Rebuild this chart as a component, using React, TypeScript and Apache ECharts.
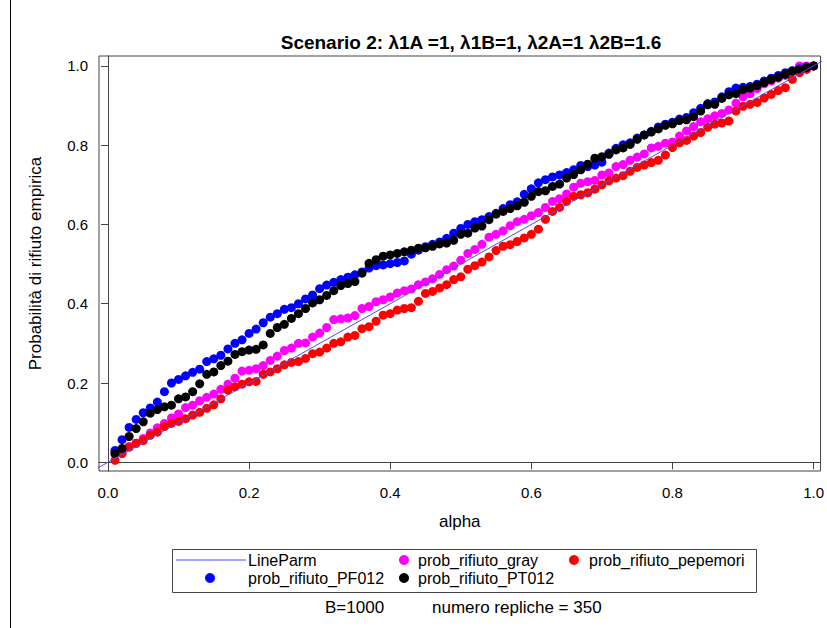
import React, { useEffect, useRef } from "react";
import * as echarts from "echarts";

const alphaValues: number[] = [
  0.01, 0.02, 0.03, 0.04, 0.05, 0.06, 0.07, 0.08, 0.09, 0.10,
  0.11, 0.12, 0.13, 0.14, 0.15, 0.16, 0.17, 0.18, 0.19, 0.20,
  0.21, 0.22, 0.23, 0.24, 0.25, 0.26, 0.27, 0.28, 0.29, 0.30,
  0.31, 0.32, 0.33, 0.34, 0.35, 0.36, 0.37, 0.38, 0.39, 0.40,
  0.41, 0.42, 0.43, 0.44, 0.45, 0.46, 0.47, 0.48, 0.49, 0.50,
  0.51, 0.52, 0.53, 0.54, 0.55, 0.56, 0.57, 0.58, 0.59, 0.60,
  0.61, 0.62, 0.63, 0.64, 0.65, 0.66, 0.67, 0.68, 0.69, 0.70,
  0.71, 0.72, 0.73, 0.74, 0.75, 0.76, 0.77, 0.78, 0.79, 0.80,
  0.81, 0.82, 0.83, 0.84, 0.85, 0.86, 0.87, 0.88, 0.89, 0.90,
  0.91, 0.92, 0.93, 0.94, 0.95, 0.96, 0.97, 0.98, 0.99, 1.00,
];

const probGray: number[] = [
  0.020, 0.026, 0.040, 0.048, 0.060, 0.074, 0.087, 0.098, 0.112, 0.122,
  0.138, 0.144, 0.155, 0.164, 0.172, 0.184, 0.197, 0.212, 0.230, 0.232,
  0.236, 0.244, 0.257, 0.268, 0.282, 0.288, 0.300, 0.301, 0.316, 0.326,
  0.340, 0.360, 0.362, 0.364, 0.370, 0.388, 0.393, 0.405, 0.410, 0.417,
  0.427, 0.433, 0.437, 0.448, 0.455, 0.463, 0.474, 0.486, 0.495, 0.510,
  0.527, 0.537, 0.550, 0.568, 0.575, 0.584, 0.597, 0.607, 0.613, 0.622,
  0.630, 0.643, 0.658, 0.665, 0.677, 0.694, 0.704, 0.708, 0.711, 0.725,
  0.730, 0.746, 0.751, 0.762, 0.770, 0.778, 0.793, 0.797, 0.805, 0.808,
  0.823, 0.836, 0.847, 0.859, 0.867, 0.874, 0.880, 0.889, 0.906, 0.922,
  0.930, 0.943, 0.955, 0.962, 0.969, 0.976, 0.986, 1.000, 1.000, 1.000,
];

const probPepemori: number[] = [
  0.005, 0.022, 0.038, 0.048, 0.055, 0.068, 0.076, 0.090, 0.098, 0.103,
  0.110, 0.119, 0.126, 0.136, 0.145, 0.160, 0.182, 0.190, 0.197, 0.203,
  0.204, 0.222, 0.228, 0.236, 0.246, 0.252, 0.254, 0.262, 0.274, 0.278,
  0.288, 0.300, 0.304, 0.316, 0.320, 0.337, 0.342, 0.356, 0.371, 0.375,
  0.384, 0.388, 0.390, 0.406, 0.426, 0.431, 0.440, 0.448, 0.461, 0.468,
  0.487, 0.496, 0.505, 0.518, 0.534, 0.545, 0.549, 0.557, 0.566, 0.575,
  0.588, 0.613, 0.633, 0.643, 0.658, 0.671, 0.675, 0.680, 0.689, 0.700,
  0.710, 0.717, 0.723, 0.734, 0.744, 0.750, 0.756, 0.762, 0.775, 0.794,
  0.806, 0.812, 0.823, 0.832, 0.845, 0.853, 0.856, 0.861, 0.886, 0.898,
  0.903, 0.908, 0.919, 0.928, 0.938, 0.945, 0.966, 0.983, 0.991, 1.000,
];

const probPF012: number[] = [
  0.030, 0.057, 0.088, 0.108, 0.125, 0.137, 0.152, 0.178, 0.200, 0.209,
  0.218, 0.227, 0.235, 0.254, 0.261, 0.270, 0.286, 0.300, 0.309, 0.325,
  0.336, 0.352, 0.366, 0.375, 0.386, 0.390, 0.400, 0.412, 0.422, 0.438,
  0.447, 0.454, 0.461, 0.467, 0.473, 0.480, 0.490, 0.496, 0.498, 0.501,
  0.504, 0.508, 0.525, 0.535, 0.544, 0.550, 0.556, 0.565, 0.578, 0.590,
  0.600, 0.607, 0.612, 0.620, 0.628, 0.640, 0.650, 0.657, 0.676, 0.690,
  0.705, 0.713, 0.720, 0.725, 0.731, 0.738, 0.749, 0.746, 0.750, 0.757,
  0.780, 0.792, 0.801, 0.806, 0.818, 0.826, 0.835, 0.846, 0.853, 0.858,
  0.866, 0.870, 0.882, 0.893, 0.905, 0.909, 0.922, 0.935, 0.944, 0.946,
  0.948, 0.954, 0.962, 0.969, 0.976, 0.983, 0.988, 0.993, 0.997, 1.000,
];

const probPT012: number[] = [
  0.022, 0.035, 0.065, 0.085, 0.102, 0.124, 0.133, 0.140, 0.144, 0.160,
  0.165, 0.178, 0.198, 0.222, 0.228, 0.244, 0.255, 0.272, 0.279, 0.283,
  0.285, 0.296, 0.325, 0.340, 0.348, 0.363, 0.375, 0.388, 0.402, 0.410,
  0.421, 0.433, 0.446, 0.451, 0.456, 0.477, 0.502, 0.511, 0.520, 0.523,
  0.527, 0.531, 0.535, 0.540, 0.541, 0.545, 0.551, 0.553, 0.560, 0.575,
  0.578, 0.591, 0.596, 0.612, 0.626, 0.633, 0.640, 0.647, 0.656, 0.671,
  0.683, 0.685, 0.696, 0.702, 0.717, 0.726, 0.738, 0.752, 0.767, 0.771,
  0.777, 0.788, 0.793, 0.802, 0.815, 0.826, 0.833, 0.841, 0.850, 0.854,
  0.862, 0.864, 0.872, 0.886, 0.902, 0.903, 0.918, 0.927, 0.930, 0.940,
  0.944, 0.950, 0.958, 0.966, 0.972, 0.979, 0.987, 0.991, 0.996, 1.000,
];

// y = x reference line (LineParm), endpoints in data units
const lineParmX: number[] = [-0.05, 1.05];
const lineParmY: number[] = [-0.05, 1.05];

const tickValues: number[] = [0, 0.2, 0.4, 0.6, 0.8, 1.0];

const FONT = "'Liberation Sans', Arial, sans-serif";

const pair = (xs: number[], ys: number[]) => xs.map((x, i) => [x, ys[i]]);

export default function App() {
  const ref = useRef<HTMLDivElement>(null);
  useEffect(() => {
    if (!ref.current) return;
    const chart = echarts.init(ref.current, undefined, { renderer: "svg" });
    const dot = (name: string, color: string, data: number[]) => ({
      name,
      type: "scatter",
      data: pair(alphaValues, data),
      symbol: "circle",
      symbolSize: 9,
      itemStyle: { color, opacity: 1 },
      emphasis: { disabled: true },
    });
    const legendText = { fontFamily: FONT, fontSize: 16, color: "#000" };
    const legendBase = {
      orient: "horizontal",
      padding: 0,
      selectedMode: false,
      itemGap: 0,
    };
    chart.setOption({
      animation: false,
      backgroundColor: "#fff",
      title: {
        text: "Scenario 2: λ1A =1, λ1B=1, λ2A=1 λ2B=1.6",
        left: 466,
        textAlign: "center",
        top: 28,
        textStyle: { fontFamily: FONT, fontSize: 19, fontWeight: "bold", color: "#000" },
      },
      grid: {
        left: 99,
        right: 2,
        top: 56,
        bottom: 157,
        show: true,
        borderColor: "#444",
        borderWidth: 1,
        backgroundColor: "transparent",
      },
      xAxis: {
        type: "value",
        min: -0.0127,
        max: 1.0099,
        name: "alpha",
        nameLocation: "middle",
        nameGap: 42,
        nameTextStyle: { fontFamily: FONT, fontSize: 17, color: "#000" },
        axisLine: { show: true, lineStyle: { color: "#444" } },
        axisTick: { show: true, length: 7, lineStyle: { color: "#444" }, customValues: tickValues },
        axisLabel: {
          fontFamily: FONT,
          fontSize: 15,
          color: "#000",
          margin: 14,
          customValues: tickValues,
          formatter: (v: number) => v.toFixed(1),
        },
        splitLine: { show: false },
      },
      yAxis: {
        type: "value",
        min: -0.022,
        max: 1.025,
        name: "Probabilità di rifiuto empirica",
        nameLocation: "middle",
        nameGap: 55,
        nameTextStyle: { fontFamily: FONT, fontSize: 17, color: "#000" },
        axisLine: { show: true, lineStyle: { color: "#444" } },
        axisTick: { show: true, length: 7, lineStyle: { color: "#444" }, customValues: tickValues },
        axisLabel: {
          fontFamily: FONT,
          fontSize: 15,
          color: "#000",
          margin: 11,
          customValues: tickValues,
          formatter: (v: number) => v.toFixed(1),
        },
        splitLine: { show: false },
      },
      legend: [
        { ...legendBase, left: 176, top: 552, itemWidth: 70, itemHeight: 1, icon: "rect", data: ["LineParm"], textStyle: { ...legendText, padding: [0, 0, 0, -3] } },
        { ...legendBase, left: 205, top: 570, itemWidth: 10, itemHeight: 10, icon: "circle", data: ["prob_rifiuto_PF012"], textStyle: { ...legendText, padding: [0, 0, 0, 28] } },
        { ...legendBase, left: 399, top: 552, itemWidth: 10, itemHeight: 10, icon: "circle", data: ["prob_rifiuto_gray"], textStyle: { ...legendText, padding: [0, 0, 0, 4] } },
        { ...legendBase, left: 399, top: 570, itemWidth: 10, itemHeight: 10, icon: "circle", data: ["prob_rifiuto_PT012"], textStyle: { ...legendText, padding: [0, 0, 0, 4] } },
        { ...legendBase, left: 569, top: 552, itemWidth: 10, itemHeight: 10, icon: "circle", data: ["prob_rifiuto_pepemori"], textStyle: { ...legendText, padding: [0, 0, 0, 5] } },
      ],
      graphic: [
        {
          type: "rect",
          left: 170,
          top: 547,
          shape: { width: 584, height: 43 },
          style: { fill: "none", stroke: "#444", lineWidth: 1 },
          silent: true,
        },
        {
          type: "line",
          shape: { x1: 10.5, y1: 0, x2: 10.5, y2: 628 },
          style: { stroke: "#000", lineWidth: 1 },
          silent: true,
        },
        {
          type: "text",
          left: 325,
          top: 599,
          style: { text: "B=1000", font: `17px ${FONT}`, fill: "#000" },
        },
        {
          type: "text",
          left: 432,
          top: 599,
          style: { text: "numero repliche = 350", font: `17px ${FONT}`, fill: "#000" },
        },
      ],
      series: [
        {
          name: "LineParm",
          type: "line",
          data: pair(lineParmX, lineParmY),
          showSymbol: false,
          symbol: "none",
          clip: true,
          lineStyle: { color: "#4b4bff", width: 1 },
          itemStyle: { color: "#4b4bff" },
          emphasis: { disabled: true },
        },
        dot("prob_rifiuto_gray", "#ff00ff", probGray),
        dot("prob_rifiuto_pepemori", "#ff0000", probPepemori),
        dot("prob_rifiuto_PF012", "#0000ff", probPF012),
        dot("prob_rifiuto_PT012", "#000000", probPT012),
      ],
    });
    return () => chart.dispose();
  }, []);
  return (
    <div
      ref={ref}
      style={{ position: "fixed", left: 0, top: 0, width: 827, height: 628, background: "#fff" }}
    />
  );
}
